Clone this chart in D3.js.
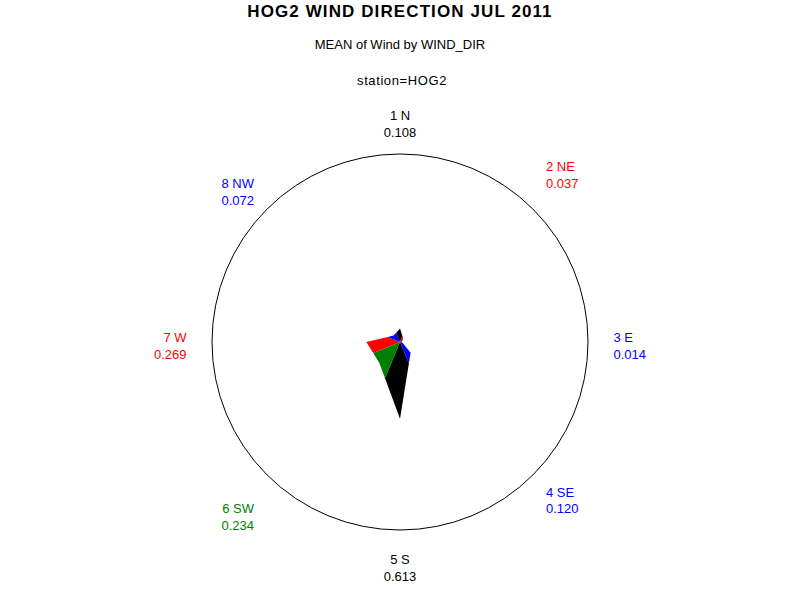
<!DOCTYPE html>
<html>
<head>
<meta charset="utf-8">
<script src="https://cdn.jsdelivr.net/npm/d3@7/dist/d3.min.js"></script>
<style>
  html, body { margin: 0; padding: 0; background: #ffffff; }
  svg { display: block; font-family: Arial, "Liberation Sans", Helvetica, sans-serif; }
</style>
</head>
<body>
<svg id="chart" width="800" height="600"></svg>
<script>
// ---- data ----
const title = "HOG2 WIND DIRECTION JUL 2011";
const subtitle = "MEAN of Wind by WIND_DIR";
const byLine = "station=HOG2";
const categories = ["1 N", "2 NE", "3 E", "4 SE", "5 S", "6 SW", "7 W", "8 NW"];
const values = [0.108, 0.037, 0.014, 0.120, 0.613, 0.234, 0.269, 0.072];
const sliceColors = ["#000000", "#ff0000", "#0000ff", "#0000ff", "#000000", "#008000", "#ff0000", "#0000ff"];
const radialMax = 1.5;

// ---- layout ----
const W = 800, H = 600;
const cx = 400, cy = 342, R = 188;
const svg = d3.select("#chart");

svg.append("rect").attr("width", W).attr("height", H).attr("fill", "#fff");

svg.append("text").attr("x", 400).attr("y", 17).attr("text-anchor", "middle")
  .attr("font-size", 17).attr("font-weight", "bold").attr("letter-spacing", "1.1px")
  .attr("fill", "#000").text(title);
svg.append("text").attr("x", 400).attr("y", 49).attr("text-anchor", "middle")
  .attr("font-size", 13).attr("fill", "#000").text(subtitle);
svg.append("text").attr("x", 402).attr("y", 85).attr("text-anchor", "middle")
  .attr("font-size", 13).attr("letter-spacing", "0.6px").attr("fill", "#000").text(byLine);

const n = categories.length;
const angle = d3.scaleLinear().domain([0, n]).range([0, 2 * Math.PI]);
const r = d3.scaleLinear().domain([0, radialMax]).range([0, R]);

const g = svg.append("g").attr("transform", `translate(${cx},${cy})`);

// outer circle
g.append("circle").attr("r", r(radialMax)).attr("fill", "none")
  .attr("stroke", "#000").attr("stroke-width", 1);

// star slices: vertex on each spine, outline as chords, split at bisectors
const half = Math.PI / n;
function midR(a, b) { // radius where chord between neighbouring spines meets bisector
  if (a + b === 0) return 0;
  return 2 * a * b * Math.cos(half) / (a + b);
}
const line = d3.lineRadial().angle(d => d[0]).radius(d => d[1]).curve(d3.curveLinearClosed);
const slices = values.map((v, i) => {
  const ri = r(v);
  const rp = r(values[(i - 1 + n) % n]);
  const rn = r(values[(i + 1) % n]);
  const th = angle(i);
  return {
    color: sliceColors[i],
    pts: [[0, 0], [th - half, midR(rp, ri)], [th, ri], [th + half, midR(ri, rn)]]
  };
});
g.selectAll("path.slice").data(slices).join("path")
  .attr("class", "slice")
  .attr("d", d => line(d.pts))
  .attr("fill", d => d.color)
  .attr("stroke", "none");

// labels
const fmt = d3.format(".3f");
const L = { cyOff: 4, axisX: 213.5, diagX: 146, axisY: 222, diagY: 162.7, half: 8.4, base: 4.6 };
categories.forEach((c, i) => {
  const th = angle(i);
  const s = Math.sin(th), co = Math.cos(th);
  const sx = Math.abs(s) < 0.1 ? 0 : Math.sign(s);
  const sy = Math.abs(co) < 0.1 ? 0 : Math.sign(co);
  const diag = sx !== 0 && sy !== 0;
  const x = cx + sx * (diag ? L.diagX : L.axisX);
  let yc = cy + L.cyOff - sy * (diag ? L.diagY : L.axisY);
  if (diag) yc += sx > 0 ? -L.half : L.half;
  const anchor = sx > 0 ? "start" : sx < 0 ? "end" : "middle";
  const t = svg.append("text").attr("text-anchor", anchor).attr("font-size", 13)
    .attr("fill", sliceColors[i]);
  t.append("tspan").attr("x", x).attr("y", yc - L.half + L.base).text(c);
  t.append("tspan").attr("x", x).attr("y", yc + L.half + L.base).text(fmt(values[i]));
});
</script>
</body>
</html>
